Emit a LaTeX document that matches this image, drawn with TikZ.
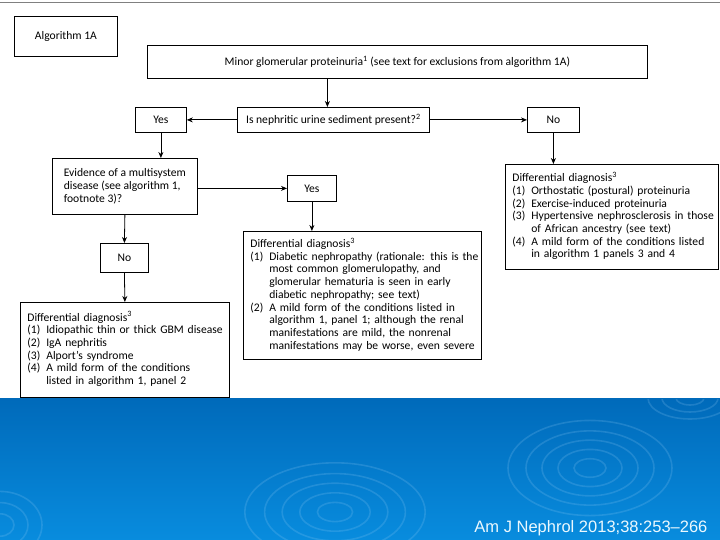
\documentclass[tikz,border=0pt]{standalone}
\usepackage{fontspec}
\setmainfont{Carlito}
\newfontfamily\citefont{Liberation Sans}
\usetikzlibrary{arrows.meta,shadows}
\definecolor{bandtop}{RGB}{0,106,186}
\definecolor{bandbot}{RGB}{8,140,222}
\definecolor{ripple}{RGB}{150,205,245}

\begin{document}
\begin{tikzpicture}[x=1pt,y=-1pt,>={Stealth[length=6pt,width=5pt]},
                   every node/.style={font=\fontsize{11.6}{12.7}\selectfont},
                   box/.style={draw,line width=0.8pt,fill=white,inner sep=0pt,anchor=north west,
                     drop shadow={shadow xshift=0.9pt,shadow yshift=-0.9pt,fill=black!50,opacity=1}},
                   listbox/.style={box,align=left,inner xsep=7pt},
                   link/.style={->,line width=0.8pt}]
\useasboundingbox (0,0) rectangle (720,540);
% slide background
\fill[white] (0,0) rectangle (720,540);
\shade[top color=bandtop,bottom color=bandbot] (0,398) rectangle (720,540);
\draw[gray,line width=1.5pt] (0,2.5) -- (720,2.5);
\begin{scope}[draw=ripple,opacity=0.2,line width=1.6pt]
\clip (0,399) rectangle (720,540);
\foreach \r in {16,32,48,64,82}{
  \draw (590,468) ellipse [x radius=\r, y radius=0.58*\r];
  \draw (335,512) ellipse [x radius=1.1*\r, y radius=0.6*\r];
}
\foreach \r in {14,28,42}{
  \draw (690,398) ellipse [x radius=\r, y radius=0.5*\r];
  \draw (0,525) ellipse [x radius=\r, y radius=0.8*\r];
}
\end{scope}
% flow chart
\node[box,minimum width=103pt,minimum height=40pt] (alg) at (14,16) {Algorithm 1A};
\node[box,minimum width=500pt,minimum height=33pt] (minor) at (147,45)
  {Minor glomerular proteinuria\textsuperscript{1} (see text for exclusions from algorithm 1A)};
\node[box,minimum width=192pt,minimum height=25pt] (q) at (237,107)
  {Is nephritic urine sediment present?\textsuperscript{2}};
\node[box,minimum width=51pt,minimum height=25pt] (yesA) at (135,107) {Yes};
\node[box,minimum width=52pt,minimum height=25pt] (noA) at (527,107) {No};
\node[box,align=left,minimum width=145pt,minimum height=56pt] (ev) at (52,158)
  {Evidence of a multisystem\\disease (see algorithm 1,\\footnote 3)?};
\node[box,minimum width=49pt,minimum height=26pt] (yesB) at (287,175) {Yes};
\node[box,minimum width=48pt,minimum height=29pt] (noB) at (100,243) {No};
\node[listbox,text width=195pt,minimum height=95pt] (ddA) at (20,302) {%
  \begin{tabular}{@{}l@{\hspace{6pt}}l@{}}
  \multicolumn{2}{@{}l@{}}{Differential diagnosis\textsuperscript{3}}\\
  (1) & Idiopathic thin or thick GBM disease\\
  (2) & IgA nephritis\\
  (3) & Alport's syndrome\\
  (4) & A mild form of the conditions\\
      & listed in algorithm 1, panel 2
  \end{tabular}};
\node[listbox,text width=224pt,minimum height=128pt] (ddB) at (243,231) {%
  \begin{tabular}{@{}l@{\hspace{6pt}}l@{}}
  \multicolumn{2}{@{}l@{}}{Differential diagnosis\textsuperscript{3}}\\
  (1) & Diabetic nephropathy (rationale: this is the\\
      & most common glomerulopathy, and\\
      & glomerular hematuria is seen in early\\
      & diabetic nephropathy; see text)\\
  (2) & A mild form of the conditions listed in\\
      & algorithm 1, panel 1; although the renal\\
      & manifestations are mild, the nonrenal\\
      & manifestations may be worse, even severe
  \end{tabular}};
\node[listbox,text width=199pt,minimum height=105pt] (ddC) at (505,164) {%
  \begin{tabular}{@{}l@{\hspace{6pt}}l@{}}
  \multicolumn{2}{@{}l@{}}{Differential diagnosis\textsuperscript{3}}\\
  (1) & Orthostatic (postural) proteinuria\\
  (2) & Exercise-induced proteinuria\\
  (3) & Hypertensive nephrosclerosis in those\\
      & of African ancestry (see text)\\
  (4) & A mild form of the conditions listed\\
      & in algorithm 1 panels 3 and 4
  \end{tabular}};
\draw[link] ([xshift=-6pt]q.north |- minor.south) -- ([xshift=-6pt]q.north);
\draw[link] (q.west) -- (yesA.east);
\draw[link] (q.east) -- (noA.west);
\draw[link] (yesA.south) -- (yesA.south |- ev.north);
\draw[link] (ev.east |- yesB.west) -- (yesB.west);
\draw[link] (yesB.south) -- (yesB.south |- ddB.north);
\draw[link] (noA.south) -- (noA.south |- ddC.north);
\draw[link] (ev.south) -- (noB.north);
\draw[link] (noB.south) -- (ddA.north);
% reference
\node[font=\citefont\fontsize{16.5}{18}\selectfont,text=white!92!cyan,anchor=base east] (cite)
  at (711,532) {Am J Nephrol 2013;38:253–266};
\end{tikzpicture}
\end{document}
